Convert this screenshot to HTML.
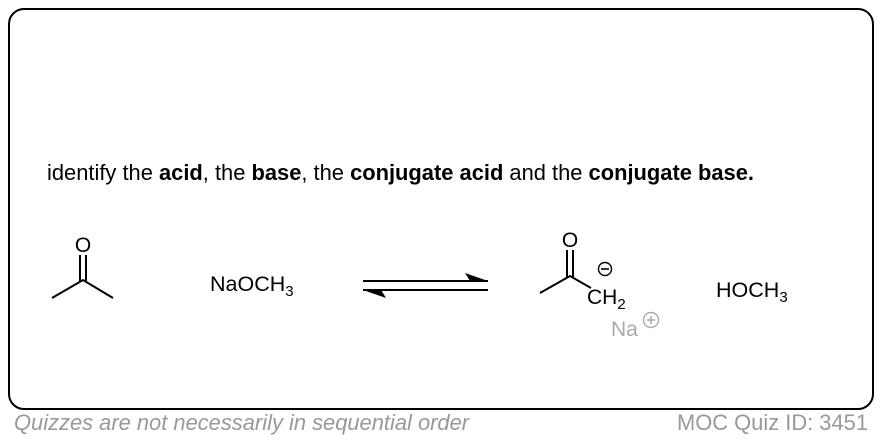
<!DOCTYPE html>
<html><head><meta charset="utf-8"><style>
html,body{margin:0;padding:0;background:#fff;}
body{width:882px;height:440px;position:relative;overflow:hidden;font-family:"Liberation Sans",Arial,sans-serif;}
.box{position:absolute;left:8px;top:8px;width:862px;height:398px;border:2px solid #000;border-radius:16px;}
.t{position:absolute;white-space:nowrap;}
</style></head><body>
<div class="box"></div>
<div class="t" style="left:47px;top:160px;font-size:21.9px;color:#000;">identify the <b>acid</b>, the <b>base</b>, the <b>conjugate acid</b> and the <b>conjugate base.</b></div>
<svg width="882" height="440" style="position:absolute;left:0;top:0" font-family="Liberation Sans, Arial, sans-serif">
 <g stroke="#000" stroke-width="2" fill="none">
  <polyline points="52,298 83,280 113,298"/>
  <line x1="80" y1="255" x2="80" y2="281"/>
  <line x1="86" y1="255" x2="86" y2="281"/>
  <polyline points="540,293 570,276 591,288"/>
  <line x1="567" y1="250" x2="567" y2="277"/>
  <line x1="573" y1="250" x2="573" y2="277"/>
  <line x1="363" y1="281" x2="488" y2="281"/>
  <line x1="363" y1="290" x2="488" y2="290"/>
 </g>
 <polygon points="488,281 465,273 470,281" fill="#000"/>
 <polygon points="363,290 386,298 381,290" fill="#000"/>
 <text x="83" y="252" font-size="21" text-anchor="middle">O</text>
 <text x="570" y="247" font-size="21" text-anchor="middle">O</text>
 <text x="210" y="291" font-size="21.5">NaOCH<tspan font-size="15" dy="5">3</tspan></text>
 <text x="716" y="297" font-size="21.5">HOCH<tspan font-size="15" dy="5">3</tspan></text>
 <text x="587" y="304" font-size="21">CH<tspan font-size="15" dy="5">2</tspan></text>
 <circle cx="605" cy="269" r="6.5" fill="none" stroke="#000" stroke-width="1.4"/>
 <line x1="601" y1="269" x2="609" y2="269" stroke="#000" stroke-width="1.6"/>
 <text x="611" y="336" font-size="21" fill="#aaa">Na</text>
 <circle cx="651" cy="320" r="7.5" fill="none" stroke="#aaa" stroke-width="1.4"/>
 <line x1="647" y1="320" x2="655" y2="320" stroke="#aaa" stroke-width="1.6"/>
 <line x1="651" y1="316" x2="651" y2="324" stroke="#aaa" stroke-width="1.6"/>
</svg>
<div class="t" style="left:14px;top:410px;font-size:21.9px;color:#999;font-style:italic;">Quizzes are not necessarily in sequential order</div>
<div class="t" style="right:14px;top:410px;font-size:21.9px;color:#999;">MOC Quiz ID: 3451</div>
</body></html>
